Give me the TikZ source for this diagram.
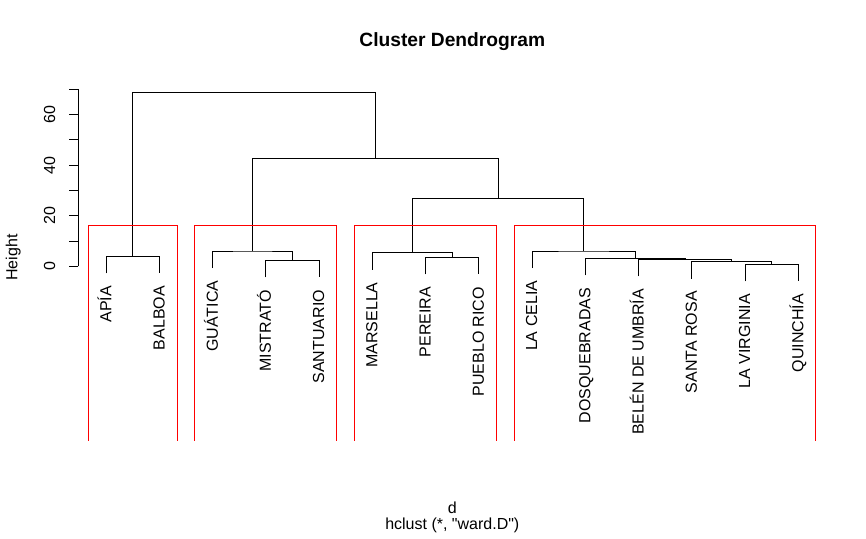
\documentclass[tikz,border=0pt]{standalone}
\usepackage{fontspec}
\setmainfont{Liberation Sans}[Ligatures=TeXOff]
\newcommand\labfont{\fontsize{16}{19}\selectfont}
\newcommand\ttlfont{\fontsize{19.2}{23}\selectfont\bfseries}
\begin{document}
\begin{tikzpicture}[x=1pt,y=-1pt,
  tree/.style={draw=black,line width=1pt},
  clus/.style={draw=red,line width=1pt},
  leaf/.style={rotate=90,anchor=base east,inner sep=0pt,font=\labfont},
  ticklab/.style={rotate=90,anchor=base,inner sep=0pt,font=\labfont},
  plain/.style={anchor=base,inner sep=0pt,font=\labfont}]
\useasboundingbox (0,0) rectangle (866,538);
% leaf ends
\coordinate (l1) at (106.3,273.3);
\coordinate (l2) at (159.53,273.3);
\coordinate (l3) at (212.76,268);
\coordinate (l4) at (265.99,277.3);
\coordinate (l5) at (319.22,277.3);
\coordinate (l6) at (372.45,269.7);
\coordinate (l7) at (425.68,274.3);
\coordinate (l8) at (478.91,274.3);
\coordinate (l9) at (532.14,268);
\coordinate (l10) at (585.37,275.3);
\coordinate (l11) at (638.6,276.3);
\coordinate (l12) at (691.83,278.5);
\coordinate (l13) at (745.06,281.3);
\coordinate (l14) at (798.29,281.3);
% merges
\coordinate (mAB) at (132.9,256.3);
\coordinate (mMS) at (292.6,260.3);
\coordinate (mG) at (252.7,251);
\coordinate (mPP) at (452.3,257.3);
\coordinate (mM) at (412.4,252.7);
\coordinate (mLQ) at (771.7,264.3);
\coordinate (mSR) at (731.8,261.5);
\coordinate (mB) at (685.2,259.3);
\coordinate (mD) at (635.3,258.3);
\coordinate (mLC) at (583.7,251);
\coordinate (m27) at (498.05,198.3);
\coordinate (m42) at (375.4,158.3);
\coordinate (mTop) at (254.15,92.3);
% tree
\draw[tree] (l1) |- (mAB) -| (l2);
\draw[tree] (l4) |- (mMS) -| (l5);
\draw[tree] (l3) |- (mG) -| (mMS);
\draw[tree] (l7) |- (mPP) -| (l8);
\draw[tree] (l6) |- (mM) -| (mPP);
\draw[tree] (l13) |- (mLQ) -| (l14);
\draw[tree] (l12) |- (mSR) -| (mLQ);
\draw[tree] (l11) |- (mB) -| (mSR);
\draw[tree] (l10) |- (mD) -| (mB);
\draw[tree] (l9) |- (mLC) -| (mD);
\draw[tree] (mM) |- (m27) -| (mLC);
\draw[tree] (mG) |- (m42) -| (m27);
\draw[tree] (mAB) |- (mTop) -| (m42);
% leaf labels
\node[leaf] (t1) at ([xshift=5pt,yshift=-12.5pt]l1) {APÍA};
\node[leaf] (t2) at ([xshift=5pt,yshift=-12.5pt]l2) {BALBOA};
\node[leaf] (t3) at ([xshift=5pt,yshift=-12.5pt]l3) {GUÁTICA};
\node[leaf] (t4) at ([xshift=5pt,yshift=-12.5pt]l4) {MISTRATÓ};
\node[leaf] (t5) at ([xshift=5pt,yshift=-12.5pt]l5) {SANTUARIO};
\node[leaf] (t6) at ([xshift=5pt,yshift=-12.5pt]l6) {MARSELLA};
\node[leaf] (t7) at ([xshift=5pt,yshift=-12.5pt]l7) {PEREIRA};
\node[leaf] (t8) at ([xshift=5pt,yshift=-12.5pt]l8) {PUEBLO RICO};
\node[leaf] (t9) at ([xshift=5pt,yshift=-12.5pt]l9) {LA CELIA};
\node[leaf] (t10) at ([xshift=5pt,yshift=-12.5pt]l10) {DOSQUEBRADAS};
\node[leaf] (t11) at ([xshift=5pt,yshift=-12.5pt]l11) {BELÉN DE UMBRÍA};
\node[leaf] (t12) at ([xshift=5pt,yshift=-12.5pt]l12) {SANTA ROSA};
\node[leaf] (t13) at ([xshift=5pt,yshift=-12.5pt]l13) {LA VIRGINIA};
\node[leaf] (t14) at ([xshift=5pt,yshift=-12.5pt]l14) {QUINCHÍA};
% cluster rectangles
\draw[clus] (88.2,440.7) |- (177.1,225.3) -- (177.1,440.7);
\draw[clus] (194.7,440.7) |- (336.8,225.3) -- (336.8,440.7);
\draw[clus] (354.35,440.7) |- (496.5,225.3) -- (496.5,440.7);
\draw[clus] (514.0,440.7) |- (815.9,225.3) -- (815.9,440.7);
% axis
\coordinate (ax0) at (78.3,266.3);
\coordinate (ax70) at (78.3,89.4);
\draw[tree] (ax0) -- (ax70);
\foreach \v in {0,...,7} \draw[tree] (78.3,266.3-25.27*\v) -- ++(-9,0);
\foreach \v in {0,20,40,60} \node[ticklab] at (55,266.3-2.527*\v) {\v};
\node[ticklab] (ylab) at (17.3,257.5) {Height};
% titles
\node[anchor=base,inner sep=0pt,font=\ttlfont] (title) at (452.3,46.7) {Cluster Dendrogram};
\node[plain] (xlab) at (452.3,513.3) {d};
\node[plain] (sub) at (452.3,529.3) {hclust (*, "ward.D")};
\end{tikzpicture}
\end{document}
